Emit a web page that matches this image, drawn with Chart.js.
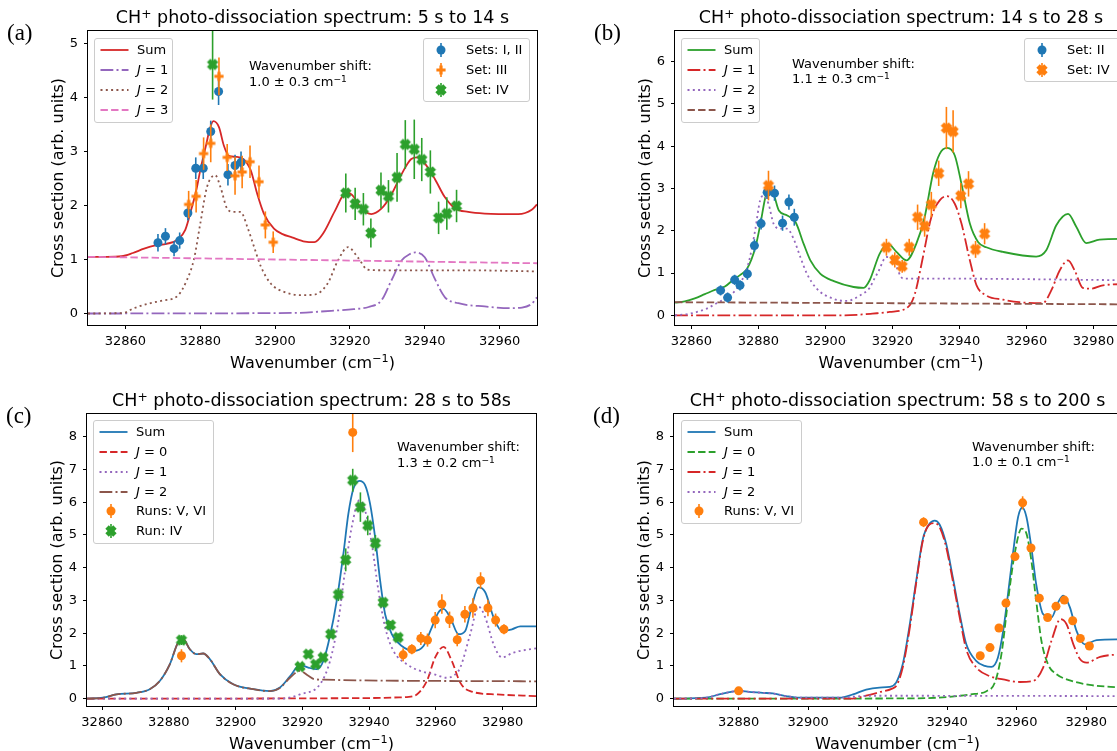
<!DOCTYPE html>
<html>
<head>
<meta charset="utf-8">
<script src="https://cdn.jsdelivr.net/npm/chart.js@4.4.0/dist/chart.umd.min.js"></script>
<style>
html, body { margin: 0; padding: 0; background: #fff; overflow: hidden; }
body { width: 1117px; height: 751px; position: relative; font-family: "DejaVu Sans", sans-serif; color: #000; }
canvas { position: absolute; }
.txt { position: absolute; white-space: nowrap; }
.sup { position: relative; top: -0.45em; font-size: 0.7em; }
.title { font-size: 17.5px; line-height: 20px; transform: translateX(-50%); }
.xlab { font-size: 16px; line-height: 20px; transform: translateX(-50%); }
.ylab { font-size: 16px; line-height: 20px; transform: translate(-50%, -50%) rotate(-90deg); }
.panel { font-family: "Liberation Serif", serif; font-size: 23px; line-height: 24px; }
.note { font-size: 13px; line-height: 15.6px; }
.legend { position: absolute; background: rgba(255,255,255,0.8); border: 1px solid #ccc; border-radius: 3px; box-sizing: border-box; font-size: 13px; }
.legend .row { position: absolute; left: 0; height: 20px; width: 100%; }
.legend svg { position: absolute; left: 4px; top: 0; }
.legend .lab { position: absolute; left: 42px; top: 0; line-height: 20px; white-space: nowrap; }
</style>
</head>
<body>
<script>
// ---------- panel (a): 5 s to 14 s ----------
const aXTicks = [32860, 32880, 32900, 32920, 32940, 32960];
const aYTicks = [0, 1, 2, 3, 4, 5];
const aSum = [[32850,1.05],[32855,1.05],[32859,1.06],[32862,1.12],[32865,1.2],[32868,1.26],[32871,1.29],[32874,1.37],[32876,1.55],[32877.5,1.9],[32879,2.3],[32880,2.65],[32881.5,3.1],[32882.5,3.4],[32883.5,3.56],[32885,3.45],[32886.3,3.11],[32887.6,2.92],[32889.5,2.9],[32891.5,2.86],[32893.5,2.65],[32895.2,2.22],[32897,1.85],[32899.7,1.57],[32902,1.47],[32904.5,1.41],[32908,1.33],[32910.5,1.32],[32913,1.5],[32916,1.9],[32919,2.24],[32920.5,2.2],[32923,1.95],[32925.7,1.84],[32928.4,1.94],[32931,2.19],[32933.8,2.58],[32936.4,2.86],[32938,2.89],[32940,2.78],[32942.7,2.49],[32945.4,2.15],[32948,1.95],[32951.6,1.88],[32956,1.85],[32965,1.84],[32968.6,1.92],[32970,2.02]];
const aJ1 = [[32850,0],[32905,0.01],[32915,0.05],[32921,0.08],[32925,0.12],[32928.4,0.24],[32931,0.6],[32933.8,0.98],[32936,1.1],[32937.5,1.13],[32940,1.04],[32942.7,0.64],[32945.4,0.3],[32949,0.19],[32956,0.13],[32963,0.1],[32966,0.11],[32968.6,0.18],[32970,0.3]];
const aJ2 = [[32850,0],[32859.5,0.01],[32862,0.09],[32866,0.18],[32870,0.24],[32874,0.33],[32876.5,0.63],[32878.3,1.0],[32880,1.66],[32881.8,2.34],[32884,2.56],[32885.4,2.34],[32887.2,1.94],[32889,1.88],[32890.8,1.88],[32892.6,1.6],[32894.4,1.23],[32896.2,0.87],[32898.9,0.55],[32902.4,0.4],[32907,0.34],[32910.5,0.35],[32914,0.55],[32916.8,0.98],[32919.5,1.23],[32922.1,1.04],[32924.8,0.81],[32930,0.8],[32950,0.8],[32970,0.78]];
const aJ3 = [[32850,1.05],[32910,0.99],[32970,0.93]];
const aSet12X = [32868.7,32870.7,32873.0,32874.5,32876.7,32878.8,32880.8,32882.8,32884.9,32887.4,32889.3,32890.9];
const aSet12Y = [1.31,1.43,1.20,1.35,1.86,2.69,2.69,3.37,4.11,2.57,2.74,2.80];
const aSet12E = [0.16,0.15,0.14,0.15,0.14,0.2,0.2,0.2,0.25,0.2,0.2,0.2];
const aSet3X = [32876.9,32878.9,32880.9,32882.8,32885.0,32887.2,32889.3,32891.2,32893.3,32895.7,32897.4,32899.5];
const aSet3Y = [2.02,2.17,2.96,3.15,4.39,2.89,2.55,2.62,2.81,2.44,1.64,1.32];
const aSet3E = [0.25,0.3,0.3,0.35,0.35,0.25,0.35,0.3,0.3,0.3,0.25,0.2];
const aSet4X = [32883.3,32918.9,32921.4,32923.6,32925.6,32928.3,32930.3,32932.6,32934.8,32937.2,32939.2,32941.5,32943.7,32945.9,32948.5];
const aSet4Y = [4.61,2.23,2.03,1.93,1.49,2.28,2.17,2.52,3.13,3.04,2.85,2.62,1.77,1.85,1.99];
const aSet4E = [0.65,0.36,0.3,0.3,0.27,0.33,0.3,0.45,0.45,0.55,0.4,0.4,0.3,0.3,0.3];

// ---------- panel (b): 14 s to 28 s ----------
const bXTicks = [32860, 32880, 32900, 32920, 32940, 32960, 32980];
const bYTicks = [0, 1, 2, 3, 4, 5, 6];
const bSum = [[32855.1,0.3],[32858,0.33],[32861,0.4],[32864,0.5],[32867,0.6],[32870,0.68],[32872.6,0.85],[32874.5,0.95],[32876.6,1.1],[32879.1,1.61],[32880.6,2.17],[32882.1,2.8],[32883.3,3.0],[32884.6,2.85],[32886.1,2.48],[32888.6,2.36],[32891.1,2.2],[32893.5,1.69],[32895.5,1.3],[32898.5,0.98],[32902.5,0.81],[32908.4,0.67],[32911.4,0.65],[32913.2,0.83],[32916.2,1.46],[32918.7,1.69],[32921.2,1.5],[32924.2,1.3],[32927.1,1.69],[32929.6,2.32],[32932.1,3.35],[32934.1,3.82],[32936.3,3.96],[32938.6,3.78],[32940.6,3.11],[32943.1,2.17],[32945.6,1.73],[32948,1.61],[32953,1.5],[32962.9,1.39],[32965.9,1.54],[32968.9,2.13],[32972.4,2.4],[32974.9,2.09],[32977.8,1.71],[32981.8,1.79],[32990,1.81]];
const bJ1 = [[32855.1,0],[32905,0],[32911,0.02],[32914,0.04],[32919.2,0.08],[32924.7,0.2],[32926.7,0.51],[32929.1,1.38],[32931.6,2.32],[32934.1,2.72],[32936.3,2.82],[32938.6,2.64],[32940.6,2.17],[32943.1,1.3],[32945.1,0.71],[32948,0.47],[32953,0.37],[32957.9,0.31],[32964.9,0.29],[32967.4,0.59],[32969.9,1.06],[32972.4,1.3],[32974.4,1.06],[32976.8,0.65],[32979.3,0.63],[32982.8,0.71],[32990,0.74]];
const bJ2 = [[32855.1,0],[32859.6,0.04],[32864.6,0.16],[32867.6,0.29],[32871.6,0.47],[32874.5,0.75],[32877,1.22],[32879,2.0],[32880.5,2.72],[32881.5,2.83],[32883,2.64],[32884.5,2.17],[32886.5,2.05],[32888.5,2.05],[32890.5,1.81],[32892.5,1.38],[32894.5,0.98],[32897.4,0.63],[32902.4,0.39],[32906.4,0.34],[32910.3,0.47],[32913.2,0.65],[32914.5,0.85],[32915.7,1.02],[32918.2,1.38],[32920.2,1.3],[32923.2,0.87],[32930,0.87],[32990,0.83]];
const bJ3 = [[32855.1,0.31],[32990,0.26]];
const bSet2X = [32868.7,32870.8,32872.9,32874.5,32876.7,32878.8,32880.8,32882.6,32884.8,32887.2,32889.1,32890.7];
const bSet2Y = [0.59,0.42,0.84,0.71,0.98,1.65,2.17,2.91,2.89,2.18,2.68,2.32];
const bSet2E = [0.12,0.12,0.12,0.12,0.14,0.15,0.14,0.16,0.18,0.18,0.18,0.2];
const bSet4X = [32883.0,32918.2,32920.7,32922.9,32925.0,32927.5,32929.6,32931.6,32933.8,32936.1,32938.1,32940.4,32942.7,32944.8,32947.5];
const bSet4Y = [3.07,1.61,1.31,1.16,1.61,2.32,2.11,2.62,3.36,4.43,4.35,2.83,3.11,1.56,1.93];
const bSet4E = [0.35,0.2,0.18,0.15,0.2,0.3,0.25,0.3,0.3,0.5,0.5,0.3,0.3,0.2,0.25];

// ---------- panel (c): 28 s to 58 s ----------
const cXTicks = [32860, 32880, 32900, 32920, 32940, 32960, 32980];
const cYTicks = [0, 1, 2, 3, 4, 5, 6, 7, 8];
const cSum = [[32855.5,0],[32860.3,0.03],[32864.3,0.13],[32870.3,0.18],[32874.3,0.29],[32877.3,0.54],[32880.3,1.05],[32882.8,1.72],[32884.3,1.82],[32886.3,1.51],[32888.3,1.36],[32890.3,1.38],[32892.3,1.21],[32895.3,0.75],[32899.3,0.44],[32905.3,0.29],[32910.3,0.23],[32913.3,0.34],[32916.3,0.68],[32919.3,1.03],[32921.8,0.95],[32924.3,0.9],[32926.3,1.15],[32928.3,1.92],[32930.3,2.99],[32932.3,4.42],[32933.8,5.65],[32935.3,6.41],[32937.1,6.65],[32938.8,6.52],[32940.3,5.95],[32941.8,4.93],[32943.3,3.61],[32944.8,2.58],[32946.8,1.97],[32949.8,1.61],[32953.3,1.46],[32956.3,1.61],[32958.8,2.18],[32960.8,2.64],[32962.3,2.74],[32964.3,2.48],[32966.8,1.97],[32968.8,2.07],[32970.8,2.84],[32972.8,3.4],[32974.8,3.25],[32977.3,2.48],[32979.8,2.07],[32982.8,2.12],[32985.3,2.21],[32990,2.21]];
const cJ0 = [[32855.5,0],[32940,0.02],[32949,0.04],[32951.3,0.05],[32954.3,0.13],[32957.3,0.54],[32959.8,1.26],[32962.3,1.58],[32964.8,1.15],[32967.3,0.49],[32970.3,0.23],[32978.3,0.13],[32990,0.08]];
const cJ1 = [[32855.5,0],[32913,0],[32916,0.03],[32919.3,0.13],[32925.3,0.44],[32928.3,1.15],[32930.8,2.38],[32932.8,3.91],[32934.8,5.24],[32937.1,6.06],[32938.8,5.75],[32940.8,4.73],[32942.8,3.3],[32944.8,2.18],[32947.3,1.46],[32951.3,1.05],[32955.3,0.85],[32959.3,0.75],[32963.3,0.64],[32965.3,0.7],[32967.3,0.95],[32970.3,1.97],[32972.8,2.81],[32974.8,2.48],[32977.3,1.66],[32979.8,1.26],[32983.3,1.41],[32990,1.54]];
const cJ2 = [[32855.5,0],[32860.3,0.03],[32864.3,0.13],[32870.3,0.18],[32874.3,0.29],[32877.3,0.54],[32880.3,1.05],[32882.8,1.72],[32884.3,1.82],[32886.3,1.51],[32888.3,1.36],[32890.3,1.38],[32892.3,1.21],[32895.3,0.75],[32899.3,0.44],[32905.3,0.29],[32910.3,0.23],[32913.3,0.33],[32916.3,0.64],[32919.3,0.85],[32921.8,0.7],[32923.5,0.6],[32926.3,0.58],[32990,0.53]];
const cRunsX = [32883.8,32935.1,32950.2,32952.8,32955.5,32957.5,32959.8,32961.8,32964.1,32966.4,32968.7,32971.1,32973.4,32975.6,32977.9,32980.4];
const cRunsY = [1.31,8.13,1.34,1.51,1.84,1.79,2.40,2.89,2.41,1.80,2.58,2.77,3.61,2.77,2.40,2.12];
const cRunsE = [0.2,0.6,0.2,0.15,0.2,0.2,0.25,0.3,0.25,0.2,0.25,0.3,0.25,0.25,0.2,0.15];
const cRun4X = [32883.8,32919.3,32921.8,32924.0,32926.2,32928.5,32930.8,32933.0,32935.1,32937.4,32939.6,32941.9,32944.2,32946.4,32948.7];
const cRun4Y = [1.79,0.98,1.36,1.05,1.26,1.97,3.18,4.24,6.67,5.85,5.29,4.75,2.94,2.25,1.87];
const cRun4E = [0.15,0.08,0.08,0.08,0.08,0.1,0.2,0.35,0.35,0.45,0.3,0.25,0.15,0.12,0.12];

// ---------- panel (d): 58 s to 200 s ----------
const dXTicks = [32880, 32900, 32920, 32940, 32960, 32980];
const dYTicks = [0, 1, 2, 3, 4, 5, 6, 7, 8];
const dSum = [[32861.4,0],[32870.6,0.03],[32874.4,0.13],[32877.3,0.2],[32880,0.24],[32883,0.21],[32886.9,0.18],[32889.8,0.16],[32893.6,0.08],[32897.4,0.03],[32909,0.03],[32912.9,0.13],[32916.7,0.28],[32920.5,0.34],[32923.4,0.36],[32925.3,0.49],[32927.2,1.05],[32929.1,2.18],[32931.1,3.61],[32933,4.88],[32934.9,5.34],[32936.4,5.44],[32937.8,5.32],[32939.7,4.73],[32941.6,3.71],[32943.6,2.58],[32945.5,1.66],[32948.4,1.15],[32950.8,1.0],[32952.7,0.97],[32954.6,1.26],[32956.1,2.07],[32957.5,3.2],[32958.9,4.42],[32960.4,5.55],[32961.6,5.83],[32962.8,5.55],[32964.2,4.63],[32965.6,3.5],[32967.6,2.58],[32970,2.48],[32971.9,2.94],[32973.4,3.15],[32975.3,2.79],[32977.2,2.07],[32979.6,1.66],[32983,1.79],[32990,1.81]];
const dJ0 = [[32861.4,0],[32930,0.01],[32936.9,0.03],[32942,0.07],[32946.5,0.13],[32951.3,0.23],[32953.7,0.49],[32955.6,1.36],[32957.5,2.99],[32959.4,4.42],[32961.4,5.19],[32962.8,5.04],[32964.2,4.22],[32965.6,2.99],[32967.1,1.77],[32969,1.05],[32971.4,0.75],[32975.3,0.56],[32981,0.42],[32990,0.34]];
const dJ1 = [[32861.4,0],[32912,0],[32917,0.1],[32920.5,0.2],[32924,0.3],[32925.5,0.42],[32927.2,0.95],[32929.1,2.07],[32931.1,3.55],[32933,4.83],[32934.9,5.32],[32936.4,5.36],[32937.8,5.24],[32939.7,4.63],[32941.6,3.61],[32943.6,2.48],[32945.5,1.5],[32948.4,0.95],[32952.2,0.69],[32956.1,0.59],[32960.9,0.51],[32964.7,0.54],[32967.6,0.95],[32970,1.77],[32972.6,2.43],[32974.3,2.28],[32976.3,1.66],[32978.2,1.21],[32980.1,1.1],[32984,1.28],[32990,1.36]];
const dJ2 = [[32861.4,0],[32870.6,0.03],[32874.4,0.13],[32877.3,0.2],[32880,0.24],[32883,0.21],[32886.9,0.18],[32889.8,0.16],[32893.6,0.08],[32897.4,0.03],[32909,0.03],[32913,0.06],[32918,0.09],[32922,0.09],[32990,0.08]];
const dRunsX = [32880.0,32933.2,32949.5,32952.3,32954.9,32956.9,32959.5,32961.7,32964.1,32966.5,32968.9,32971.3,32973.7,32976.1,32978.3,32980.9];
const dRunsY = [0.24,5.39,1.31,1.56,2.16,2.92,4.34,5.98,4.60,3.07,2.48,2.82,3.01,2.38,1.84,1.61];
const dRunsE = [0.05,0.15,0.05,0.05,0.05,0.08,0.1,0.2,0.1,0.08,0.05,0.05,0.08,0.05,0.05,0.05];

// colours (matplotlib tab10)
const BLUE = '#1f77b4', ORANGE = '#ff7f0e', GREEN = '#2ca02c', RED = '#d62728',
      PURPLE = '#9467bd', BROWN = '#8c564b', PINK = '#e377c2';
const DASH = { solid: [], dashed: [7.4, 3.2], dashdot: [12.8, 3.2, 2, 3.2], dotted: [2, 3.3] };

Chart.defaults.font.family = '"DejaVu Sans", sans-serif';
Chart.defaults.font.size = 13;
Chart.defaults.color = '#000';

function pts(pairs) { return pairs.map(p => ({ x: p[0], y: p[1] })); }
function zipPts(xs, ys) { return xs.map((x, i) => ({ x: x, y: ys[i] })); }

// filled plus ('P') or filled x ('X') outline
function markerPoly(shape) {
  let h = 4.6, t = 1.6;
  if (shape === 'X') { h = 5.6; t = 2.4; }
  let p = [[-t,-h],[t,-h],[t,-t],[h,-t],[h,t],[t,t],[t,h],[-t,h],[-t,t],[-h,t],[-h,-t],[-t,-t]];
  if (shape === 'X') {
    const c = Math.SQRT1_2;
    p = p.map(([x, y]) => [(x - y) * c, (x + y) * c]);
  }
  return p;
}
function markerImg(shape, color) {
  const cv = document.createElement('canvas');
  cv.width = 14; cv.height = 14;
  const ctx = cv.getContext('2d');
  ctx.fillStyle = color;
  ctx.beginPath();
  markerPoly(shape).forEach(([x, y], i) => i ? ctx.lineTo(7 + x, 7 + y) : ctx.moveTo(7 + x, 7 + y));
  ctx.closePath();
  ctx.fill();
  return cv;
}

function lineDs(pairs, color, style, order) {
  return {
    data: pts(pairs), showLine: true, borderColor: color, borderWidth: 1.8,
    borderDash: DASH[style], borderCapStyle: 'butt', pointRadius: 0,
    cubicInterpolationMode: 'monotone', order: order
  };
}
function pointDs(xs, ys, es, color, shape, order) {
  return {
    data: zipPts(xs, ys), errors: es, showLine: false,
    pointStyle: shape === 'o' ? 'circle' : markerImg(shape, color),
    pointRadius: 4.5, backgroundColor: color, borderWidth: 0, order: order
  };
}

// vertical error bars, drawn just under their own markers
const errorBars = {
  id: 'errorBars',
  beforeDatasetDraw(chart, args) {
    const ds = chart.data.datasets[args.index];
    if (!ds.errors) return;
    const { ctx, chartArea, scales } = chart;
    ctx.save();
    ctx.beginPath();
    ctx.rect(chartArea.left, chartArea.top, chartArea.width, chartArea.height);
    ctx.clip();
    ctx.strokeStyle = ds.backgroundColor;
    ctx.lineWidth = 1.6;
    ds.data.forEach((p, i) => {
      const x = scales.x.getPixelForValue(p.x);
      ctx.beginPath();
      ctx.moveTo(x, scales.y.getPixelForValue(p.y - ds.errors[i]));
      ctx.lineTo(x, scales.y.getPixelForValue(p.y + ds.errors[i]));
      ctx.stroke();
    });
    ctx.restore();
  }
};
// four spines like matplotlib
const frame = {
  id: 'frame',
  afterDatasetsDraw(chart) {
    const { ctx, chartArea: a } = chart;
    ctx.save();
    ctx.strokeStyle = '#000';
    ctx.lineWidth = 1;
    ctx.strokeRect(a.left - 0.5, a.top - 0.5, a.width + 1, a.height + 1);
    ctx.restore();
  }
};

const YW = 50, XH = 30, PT = 10, PR = 10;

function makeChart(box, xr, yr, xTicks, yTicks, datasets) {
  const cv = document.createElement('canvas');
  const w = box.R - box.L + YW + PR, h = box.B - box.T + PT + XH;
  cv.width = w; cv.height = h;
  cv.style.width = w + 'px'; cv.style.height = h + 'px';
  cv.style.left = (box.L - YW) + 'px';
  cv.style.top = (box.T - PT) + 'px';
  document.body.appendChild(cv);
  const gridOpts = { drawOnChartArea: false, drawTicks: true, tickLength: 4, tickColor: '#000', tickWidth: 1 };
  new Chart(cv, {
    type: 'scatter',
    data: { datasets: datasets },
    options: {
      responsive: false, animation: false, devicePixelRatio: 1, events: [],
      layout: { padding: { left: 0, top: PT, right: PR, bottom: 0 } },
      plugins: { legend: { display: false }, tooltip: { enabled: false } },
      scales: {
        x: {
          type: 'linear', min: xr[0], max: xr[1],
          afterBuildTicks: s => { s.ticks = xTicks.map(v => ({ value: v })); },
          afterFit: s => { s.height = XH; s.paddingLeft = 0; s.paddingRight = 0; },
          grid: gridOpts, border: { display: false },
          ticks: { padding: 5, maxRotation: 0, autoSkip: false, callback: v => String(v) }
        },
        y: {
          type: 'linear', min: yr[0], max: yr[1],
          afterBuildTicks: s => { s.ticks = yTicks.map(v => ({ value: v })); },
          afterFit: s => { s.width = YW; s.paddingTop = 0; s.paddingBottom = 0; },
          grid: gridOpts, border: { display: false },
          ticks: { padding: 6, autoSkip: false, callback: v => String(v) }
        }
      }
    },
    plugins: [errorBars, frame]
  });
}

function addText(cls, html, left, top) {
  const d = document.createElement('div');
  d.className = 'txt ' + cls;
  d.innerHTML = html;
  d.style.left = left + 'px';
  d.style.top = top + 'px';
  document.body.appendChild(d);
}

function sampleSvg(item) {
  if (item.line) {
    const dash = DASH[item.line].join(' ');
    return '<svg width="32" height="20"><line x1="1.5" y1="10" x2="29.5" y2="10" stroke="' + item.color +
      '" stroke-width="1.8" stroke-dasharray="' + (dash || 'none') + '"/></svg>';
  }
  let m;
  if (item.marker === 'o') {
    m = '<circle cx="13" cy="10" r="4.5" fill="' + item.color + '"/>';
  } else {
    const p = markerPoly(item.marker).map(([x, y]) => (13 + x) + ',' + (10 + y)).join(' ');
    m = '<polygon points="' + p + '" fill="' + item.color + '"/>';
  }
  return '<svg width="32" height="20"><line x1="13" y1="3" x2="13" y2="17" stroke="' + item.color +
    '" stroke-width="1.6"/>' + m + '</svg>';
}

function addLegend(left, top, width, height, items, step) {
  const box = document.createElement('div');
  box.className = 'legend';
  box.style.left = left + 'px'; box.style.top = top + 'px';
  box.style.width = width + 'px'; box.style.height = height + 'px';
  items.forEach((it, i) => {
    const r = document.createElement('div');
    r.className = 'row';
    r.style.top = (1 + i * step) + 'px';
    r.innerHTML = sampleSvg(it) + '<span class="lab">' + it.label + '</span>';
    box.appendChild(r);
  });
  document.body.appendChild(box);
}

const J = n => '<i>J</i> = ' + n;
const CM = 'cm<span class="sup">\u22121</span>';
const CH = 'CH<span class="sup">+</span> photo-dissociation spectrum: ';
const XLAB = 'Wavenumber (' + CM + ')';
const YLAB = 'Cross section (arb. units)';

const PA = { L: 88, T: 31, R: 537, B: 325 };
const PB = { L: 675, T: 31, R: 1127, B: 325 };
const PC = { L: 87, T: 414, R: 536, B: 706 };
const PD = { L: 674, T: 414, R: 1121, B: 706 };

makeChart(PA, [32850, 32970], [-0.213, 5.23], aXTicks, aYTicks, [
  pointDs(aSet4X, aSet4Y, aSet4E, GREEN, 'X', 1),
  pointDs(aSet3X, aSet3Y, aSet3E, ORANGE, 'P', 2),
  pointDs(aSet12X, aSet12Y, aSet12E, BLUE, 'o', 3),
  lineDs(aJ3, PINK, 'dashed', 6),
  lineDs(aJ2, BROWN, 'dotted', 7),
  lineDs(aJ1, PURPLE, 'dashdot', 8),
  lineDs(aSum, RED, 'solid', 9)
]);
makeChart(PB, [32855.1, 32990], [-0.229, 6.726], bXTicks, bYTicks, [
  pointDs(bSet4X, bSet4Y, bSet4E, ORANGE, 'X', 1),
  pointDs(bSet2X, bSet2Y, bSet2E, BLUE, 'o', 2),
  lineDs(bJ3, BROWN, 'dashed', 6),
  lineDs(bJ2, PURPLE, 'dotted', 7),
  lineDs(bJ1, RED, 'dashdot', 8),
  lineDs(bSum, GREEN, 'solid', 9)
]);
makeChart(PC, [32855.5, 32990], [-0.223, 8.693], cXTicks, cYTicks, [
  pointDs(cRun4X, cRun4Y, cRun4E, GREEN, 'X', 1),
  pointDs(cRunsX, cRunsY, cRunsE, ORANGE, 'o', 2),
  lineDs(cJ2, BROWN, 'dashdot', 6),
  lineDs(cJ1, PURPLE, 'dotted', 7),
  lineDs(cJ0, RED, 'dashed', 8),
  lineDs(cSum, BLUE, 'solid', 9)
]);
makeChart(PD, [32861.4, 32990], [-0.223, 8.693], dXTicks, dYTicks, [
  pointDs(dRunsX, dRunsY, dRunsE, ORANGE, 'o', 1),
  lineDs(dJ2, PURPLE, 'dotted', 6),
  lineDs(dJ1, RED, 'dashdot', 7),
  lineDs(dJ0, GREEN, 'dashed', 8),
  lineDs(dSum, BLUE, 'solid', 9)
]);

// titles, axis labels, panel letters
[[PA, '5 s to 14 s', '(a)'], [PB, '14 s to 28 s', '(b)'], [PC, '28 s to 58s', '(c)'], [PD, '58 s to 200 s', '(d)']]
  .forEach(([p, span, letter]) => {
    const cx = (p.L + Math.min(p.R, 1127)) / 2;
    addText('title', CH + span, cx, p.T - 24);
    addText('xlab', XLAB, cx, p.B + 27.5);
    addText('ylab', YLAB, p.L - 30, (p.T + p.B) / 2);
    addText('panel', letter, p.L - 81, p.T - 10);
  });

// wavenumber shift notes
addText('note', 'Wavenumber shift:<br>1.0 \u00b1 0.3 ' + CM, 249, 58);
addText('note', 'Wavenumber shift:<br>1.1 \u00b1 0.3 ' + CM, 792, 55.5);
addText('note', 'Wavenumber shift:<br>1.3 \u00b1 0.2 ' + CM, 397, 439);
addText('note', 'Wavenumber shift:<br>1.0 \u00b1 0.1 ' + CM, 972, 438.5);

// legends
addLegend(94, 38, 79, 85, [
  { line: 'solid', color: RED, label: 'Sum' },
  { line: 'dashdot', color: PURPLE, label: J(1) },
  { line: 'dotted', color: BROWN, label: J(2) },
  { line: 'dashed', color: PINK, label: J(3) }
], 20);
addLegend(423, 38, 107, 64, [
  { marker: 'o', color: BLUE, label: 'Sets: I, II' },
  { marker: 'P', color: ORANGE, label: 'Set: III' },
  { marker: 'X', color: GREEN, label: 'Set: IV' }
], 20);
addLegend(681, 38, 79, 85, [
  { line: 'solid', color: GREEN, label: 'Sum' },
  { line: 'dashdot', color: RED, label: J(1) },
  { line: 'dotted', color: PURPLE, label: J(2) },
  { line: 'dashed', color: BROWN, label: J(3) }
], 20);
addLegend(1024, 38, 100, 44, [
  { marker: 'o', color: BLUE, label: 'Set: II' },
  { marker: 'X', color: ORANGE, label: 'Set: IV' }
], 20);
addLegend(93, 420, 121, 124, [
  { line: 'solid', color: BLUE, label: 'Sum' },
  { line: 'dashed', color: RED, label: J(0) },
  { line: 'dotted', color: PURPLE, label: J(1) },
  { line: 'dashdot', color: BROWN, label: J(2) },
  { marker: 'o', color: ORANGE, label: 'Runs: V, VI' },
  { marker: 'X', color: GREEN, label: 'Run: IV' }
], 19.85);
addLegend(681, 420, 121, 104, [
  { line: 'solid', color: BLUE, label: 'Sum' },
  { line: 'dashed', color: GREEN, label: J(0) },
  { line: 'dashdot', color: RED, label: J(1) },
  { line: 'dotted', color: PURPLE, label: J(2) },
  { marker: 'o', color: ORANGE, label: 'Runs: V, VI' }
], 19.85);
</script>
</body>
</html>
